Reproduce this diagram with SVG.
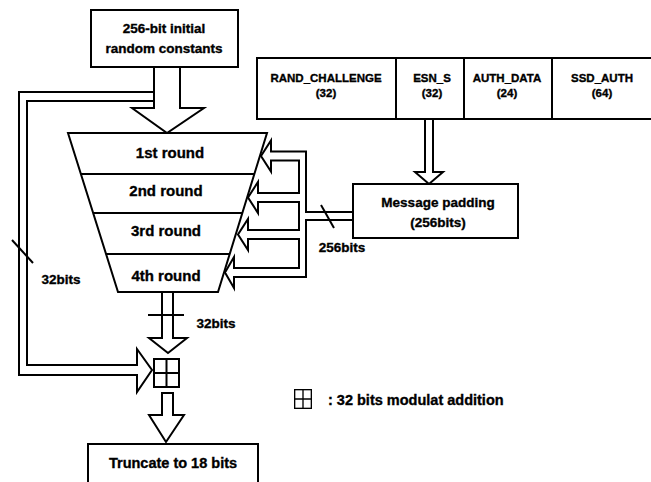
<svg xmlns="http://www.w3.org/2000/svg" width="651" height="482" viewBox="0 0 651 482">
<style>
  .ln{fill:none;stroke:#000;stroke-width:2;stroke-linejoin:miter}
  .bx{fill:#fff;stroke:#000;stroke-width:2}
  text{font-family:"Liberation Sans",Arial,sans-serif;font-weight:bold;fill:#000;stroke:#000;stroke-width:0.35;text-anchor:middle}
  .t13{font-size:13.5px}
  .t15{font-size:15px}
  .t11{font-size:11.5px}
</style>
<defs>
  <symbol id="addsym" viewBox="0 0 27 30">
    <rect x="1" y="1" width="25" height="28" fill="#fff" stroke="#000" stroke-width="2"/>
    <path d="M13.5 1V29M1 15H26" stroke="#000" stroke-width="2" fill="none"/>
  </symbol>
</defs>

<g id="connectors">
  <!-- top constants to rounds -->
  <path class="ln" d="M154,67 V108 H132 L167,133 L204,108 H180 V67"/>
  <!-- feedback loop to adder -->
  <path class="ln" d="M154,92 H19 V375 H137 V392 L152,370 L137,349 V365 H27 V101 H154"/>
  <line class="ln" x1="12" y1="240" x2="33" y2="263"/>
  <text class="t13" x="61" y="284">32bits</text>
  <!-- ESN_S to message padding -->
  <path class="ln" d="M425,120 V172 H415 L429,184 L443,172 H433 V120"/>
  <!-- message padding bus to rounds -->
  <path class="ln" d="M353,212 H306 V151.5 H271 V140.5 L261,156 L271,171.5 V160.5 H299 V193 H258 V182 L248,197.5 L258,213 V202 H299 V230 H248 V219 L238,234.5 L248,250 V239 H299 V268 H234 V257 L225,272.5 L234,288 V277 H306 V220 H353"/>
  <line class="ln" x1="321" y1="205" x2="334" y2="228"/>
  <text class="t13" x="342" y="252">256bits</text>
  <!-- rounds to adder -->
  <path class="ln" d="M162,292 V338 H149 L168,353 L187,338 H173 V292"/>
  <line class="ln" x1="148" y1="315" x2="184" y2="315"/>
  <text class="t13" x="216" y="328">32bits</text>
  <!-- adder to truncate -->
  <path class="ln" d="M162,415 V393 H173 V415 H184 L166,442 L149,415 Z"/>
</g>

<g id="initial-constants">
  <rect class="bx" x="91" y="10" width="147" height="57"/>
  <text class="t13" x="164" y="33">256-bit initial</text>
  <text class="t13" x="164" y="53">random constants</text>
</g>

<g id="input-table">
  <path class="ln" d="M651,58 H257 V119 H651"/>
  <path class="ln" d="M396,58 V119 M464,58 V119 M552,58 V119"/>
  <text class="t11" x="326" y="82">RAND_CHALLENGE</text>
  <text class="t11" x="326" y="97">(32)</text>
  <text class="t11" x="432" y="82">ESN_S</text>
  <text class="t11" x="432" y="97">(32)</text>
  <text class="t11" x="507" y="82">AUTH_DATA</text>
  <text class="t11" x="507" y="97">(24)</text>
  <text class="t11" x="602" y="82">SSD_AUTH</text>
  <text class="t11" x="602" y="97">(64)</text>
</g>

<g id="rounds">
  <path class="bx" d="M68,133 H267 L218,292 H118 Z"/>
  <path class="ln" d="M81,174 H254 M93,213 H242 M106,254 H230"/>
  <text class="t15" x="170" y="158">1st  round</text>
  <text class="t15" x="166" y="196">2nd round</text>
  <text class="t15" x="166" y="236">3rd round</text>
  <text class="t15" x="166" y="281">4th round</text>
</g>

<g id="message-padding">
  <rect class="bx" x="353" y="184" width="165" height="54"/>
  <text class="t13" x="438" y="207">Message padding</text>
  <text class="t13" x="438" y="227">(256bits)</text>
</g>

<g id="adder">
  <use href="#addsym" x="153" y="358" width="27" height="30"/>
</g>

<g id="truncate">
  <rect class="bx" x="88" y="444" width="170" height="45"/>
  <text x="173" y="468" style="font-size:14.5px">Truncate to 18 bits</text>
</g>

<g id="legend">
  <use href="#addsym" x="293" y="389" width="20" height="20"/>
  <text x="328" y="405" style="font-size:14.5px;text-anchor:start">: 32 bits modulat addition</text>
</g>
</svg>
